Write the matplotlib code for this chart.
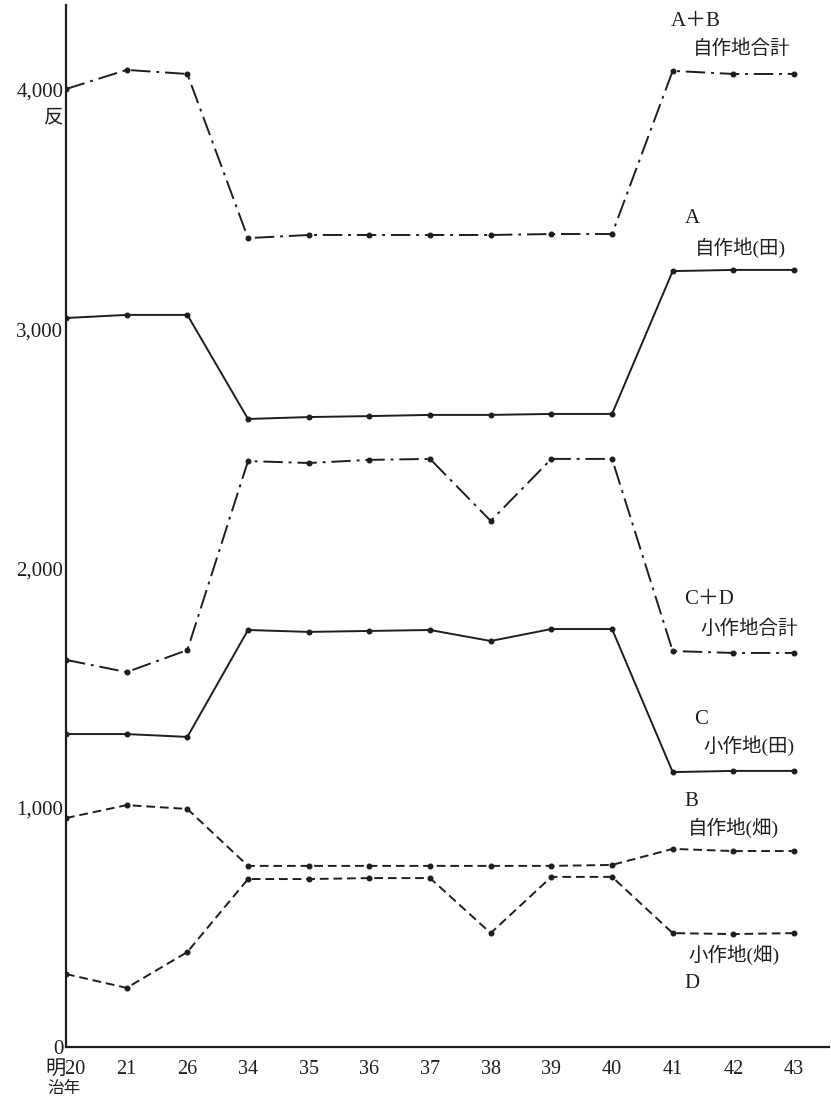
import matplotlib
matplotlib.use('Agg')
import matplotlib.pyplot as plt
from matplotlib.ticker import FuncFormatter

# 明治年次 (categorical, evenly spaced)
years = ['明20', '21', '26', '34', '35', '36', '37', '38', '39', '40', '41', '42', '43']

# 反
own_total = [4004, 4084, 4067, 3381, 3394, 3394, 3394, 3394, 3398, 3398, 4080, 4067, 4067]  # A+B
own_paddy = [3047, 3060, 3060, 2625, 2633, 2637, 2642, 2642, 2646, 2646, 3243, 3248, 3248]  # A
ten_total = [1618, 1567, 1659, 2449, 2441, 2454, 2458, 2199, 2458, 2458, 1655, 1647, 1647]  # C+D
ten_paddy = [1308, 1308, 1296, 1743, 1735, 1739, 1743, 1697, 1747, 1747, 1149, 1154, 1154]  # C
own_field = [957, 1011, 995, 757, 757, 757, 757, 757, 757, 761, 828, 819, 819]              # B
ten_field = [305, 247, 397, 702, 702, 706, 706, 476, 711, 711, 476, 472, 476]               # D

y_ticks = [0, 1000, 2000, 3000, 4000]

FONT = ['Liberation Serif', 'Noto Sans CJK JP']
plt.rcParams['font.family'] = FONT
INK = '#1e1e1e'

W, H = 831, 1101
fig = plt.figure(figsize=(W / 100, H / 100), dpi=100)
ax = fig.add_axes([66 / W, 1 - 1047 / H, (829 - 66) / W, (1047 - 5) / H])

x = list(range(len(years)))
dashdot = (0, (10, 3, 1.5, 3))
dashed = (0, (4.5, 2.5))
series = [
    (own_total, dashdot),
    (own_paddy, '-'),
    (ten_total, dashdot),
    (ten_paddy, '-'),
    (own_field, dashed),
    (ten_field, dashed),
]
for vals, ls in series:
    ax.plot(x, vals, color=INK, lw=1.4, ls=ls, marker='o', ms=3.3, mfc=INK, mec=INK)

ax.set_xlim(0, (829 - 66) / 60.67)
ax.set_ylim(0, (1047 - 5) / 0.23925)
ax.set_xticks(x)
ax.set_xticklabels(years, fontsize=14.5)
ax.set_yticks(y_ticks)
ax.yaxis.set_major_formatter(FuncFormatter(lambda v, p: f'{int(v):,}'))
ax.tick_params(axis='y', length=0, pad=2, labelsize=15)
ax.tick_params(axis='x', length=0, pad=9)
for lab in ax.get_yticklabels():
    lab.set_color(INK)
for lab in ax.get_xticklabels():
    lab.set_color(INK)

for s in ('top', 'right'):
    ax.spines[s].set_visible(False)
for s in ('left', 'bottom'):
    ax.spines[s].set_linewidth(1.6)
    ax.spines[s].set_color(INK)


def label(px, py, txt, size=14, ha='left'):
    fig.text(px / W, 1 - py / H, txt, fontsize=size, color=INK, ha=ha, va='center')


# unit and year captions
label(63, 118, '反', size=14, ha='right')
label(47, 1089, '治年', size=12)

# series labels on the right
label(671, 22, 'A＋B', size=15)
label(693, 49, '自作地合計')
label(685, 219, 'A', size=15)
label(695, 248, '自作地(田)')
label(684, 599, 'C＋D', size=15)
label(700, 629, '小作地合計')
label(694, 720, 'C', size=15)
label(703, 746, '小作地(田)')
label(684, 801, 'B', size=15)
label(688, 828, '自作地(畑)')
label(688, 955, '小作地(畑)')
label(684, 984, 'D', size=15)

fig.savefig('out.png', dpi=100, facecolor='white')
